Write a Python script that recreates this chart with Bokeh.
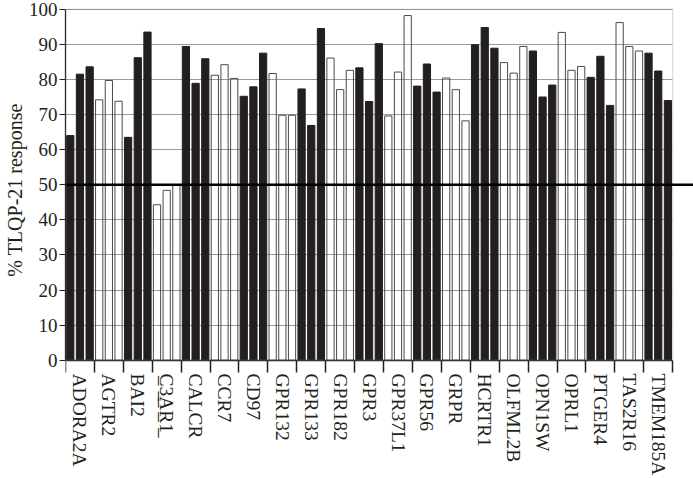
from bokeh.plotting import figure
from bokeh.models import Range1d, FixedTicker, Span, BoxAnnotation, ColumnDataSource, LinearAxis
from bokeh.embed import file_html
from bokeh.resources import INLINE

categories = ["ADORA2A", "AGTR2", "BAI2", "C3AR1", "CALCR", "CCR7", "CD97",
              "GPR132", "GPR133", "GPR182", "GPR3", "GPR37L1", "GPR56", "GRPR",
              "HCRTR1", "OLFML2B", "OPN1SW", "OPRL1", "PTGER4", "TAS2R16", "TMEM185A"]
rep1 = [64.0, 74.2, 63.5, 44.3, 89.4, 81.2, 75.2, 81.7, 77.3, 86.1, 83.3,
        69.6, 78.1, 80.4, 89.9, 84.8, 88.1, 93.4, 80.6, 96.2, 87.5]
rep2 = [81.5, 79.7, 86.2, 48.4, 78.9, 84.2, 77.9, 69.8, 66.9, 77.1, 73.7,
        82.1, 84.4, 77.1, 94.8, 81.8, 75.0, 82.6, 86.6, 89.4, 82.4]
rep3 = [83.6, 73.8, 93.5, 49.8, 85.9, 80.3, 87.5, 69.8, 94.5, 82.6, 90.2,
        98.2, 76.4, 68.2, 88.9, 89.4, 78.4, 83.7, 72.6, 88.1, 74.0]
underlined = ["C3AR1"]
y_ticks = [0, 10, 20, 30, 40, 50, 60, 70, 80, 90, 100]
threshold = 50
y_title = "% TLQP-21 response"

INK = "#231f20"
FONT = "Liberation Serif"
n = len(categories)

W, H = 693, 478
TOP = 7
Y_START, Y_END = -3.5, 100.5   # room below 0 for the separator ticks
EXT = 0.72

p = figure(width=W, height=H, output_backend="svg", toolbar_location=None,
           x_range=Range1d(-0.5, n - 0.5 + EXT), y_range=Range1d(Y_START, Y_END),
           min_border_top=TOP, min_border_right=0, min_border_left=0,
           min_border_bottom=0)
p.outline_line_color = None
p.background_fill_color = "white"
p.xgrid.visible = False
p.ygrid.ticker = FixedTicker(ticks=y_ticks)
p.ygrid.grid_line_color = "#9a9a9a"
p.ygrid.grid_line_width = 1
try:
    p.ygrid.cross_bounds = (-0.5, n - 0.5)
except Exception:
    pass

offsets = [-0.335, 0.0, 0.335]
filled = [i % 2 == 0 for i in range(n)]
for reps, off in zip([rep1, rep2, rep3], offsets):
    src = ColumnDataSource(dict(
        x=[i + off for i in range(n)], top=reps,
        fill=[INK if f else "white" for f in filled],
        alpha=[1.0 if f else 0.0 for f in filled],
        line=[INK if f else "#4a4a4a" for f in filled],
    ))
    p.vbar(x="x", top="top", bottom=0, width=0.25, source=src,
           fill_color="fill", fill_alpha="alpha", line_color="line", line_width=1)

p.add_layout(BoxAnnotation(left=-0.5, right=n - 0.5, bottom=0, top=100,
                           fill_alpha=0, line_color="#858585", line_width=1.2))
p.add_layout(Span(location=threshold, dimension="width", line_color="black", line_width=2.6))

# category axis: labels only (sits at the frame bottom)
xa = p.xaxis[0]
xa.ticker = FixedTicker(ticks=list(range(n)))
xa.major_label_overrides = {i: ("".join(ch + "\u0332" for ch in c) if c in underlined else c)
                            for i, c in enumerate(categories)}
xa.major_label_orientation = "vertical"
xa.major_tick_out = 0
xa.major_tick_in = 0
xa.minor_tick_out = 0
xa.minor_tick_in = 0
xa.axis_line_color = None
xa.major_tick_line_color = None
xa.major_label_standoff = 1
xa.major_label_text_font = FONT
xa.major_label_text_font_size = "19.5px"
xa.major_label_text_color = INK

# baseline axis at y = 0 with separator ticks between receptors
sep = LinearAxis(fixed_location=0,
                 ticker=FixedTicker(ticks=[], minor_ticks=[i - 0.5 for i in range(n + 1)]),
                 bounds=(-0.5, n - 0.5))
sep.major_tick_out = 0
sep.major_tick_in = 0
sep.minor_tick_out = 13
sep.minor_tick_in = 0
sep.minor_tick_line_color = INK
sep.minor_tick_line_width = 1.5
sep.axis_line_color = INK
sep.axis_line_width = 1.3
sep.major_label_text_font_size = "0px"
p.add_layout(sep, "below")

ya = p.yaxis[0]
ya.ticker = FixedTicker(ticks=y_ticks)
ya.bounds = (0, 100)
ya.major_tick_out = 6
ya.major_tick_in = 0
ya.minor_tick_out = 0
ya.minor_tick_in = 0
ya.major_tick_line_color = INK
ya.axis_line_color = INK
ya.axis_line_width = 1.3
ya.major_label_standoff = 2
ya.major_label_text_font = FONT
ya.major_label_text_font_size = "19px"
ya.major_label_text_color = INK
ya.axis_label = y_title
ya.axis_label_text_font = FONT
ya.axis_label_text_font_size = "20px"
ya.axis_label_text_font_style = "normal"
ya.axis_label_text_color = INK
ya.axis_label_standoff = 0

open("out.html", "w").write(file_html(p, INLINE))
